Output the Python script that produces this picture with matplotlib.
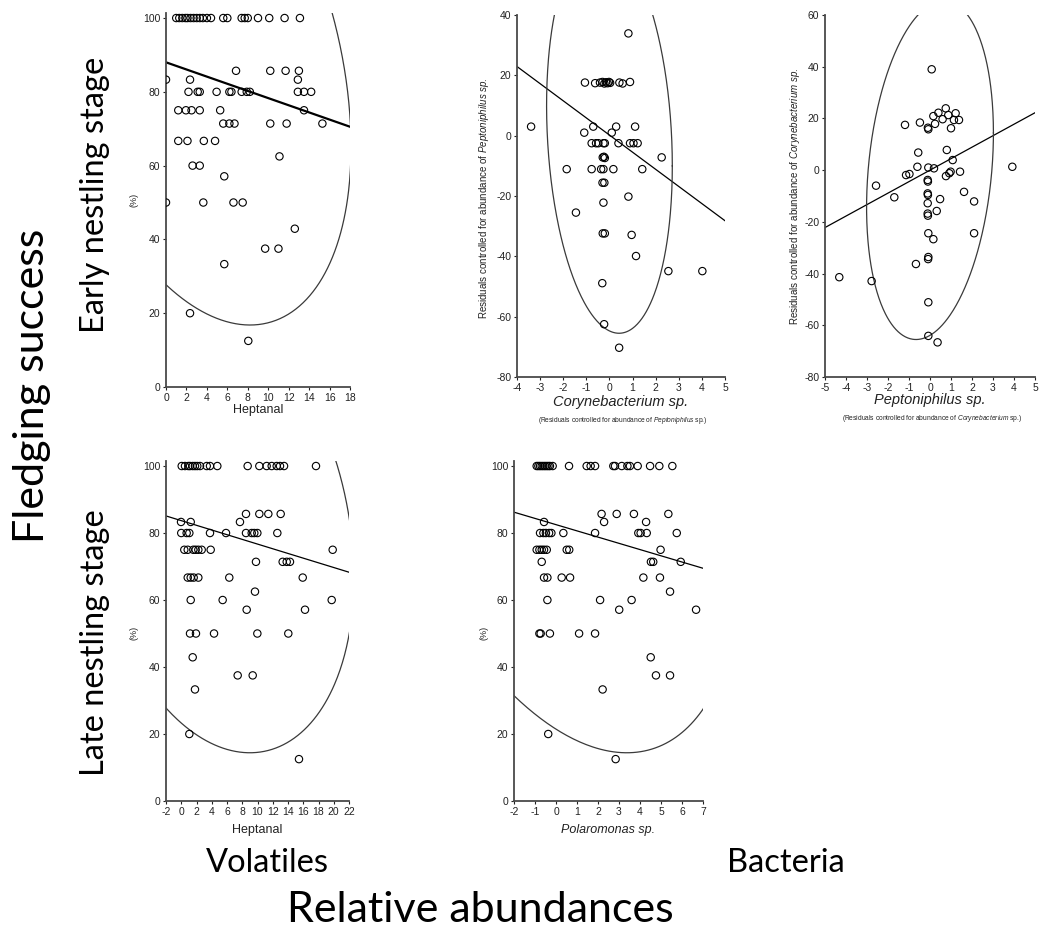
import numpy as np
import matplotlib
matplotlib.use("Agg")
import matplotlib.pyplot as plt

plt.rcParams['font.family'] = ['Liberation Sans', 'DejaVu Sans']
plt.rcParams['mathtext.fontset'] = 'custom'
plt.rcParams['mathtext.rm'] = 'Liberation Sans'
plt.rcParams['mathtext.it'] = 'Liberation Sans:italic'
plt.rcParams['axes.unicode_minus'] = False

W, H = 1041, 931

# ---- fledging success (%) vs relative abundance, one row per success level ----
early_heptanal = [
    (100, [1.0, 1.3, 1.6, 1.9, 2.1, 2.4, 2.7, 3.0, 3.3, 3.6, 4.0, 4.4,
           5.6, 6.0, 7.4, 7.7, 8.0, 9.0, 10.1, 11.6, 13.1]),
    (85.7, [6.85, 10.2, 11.7, 13.0]),
    (83.3, [0.0, 2.35, 12.9]),
    (80, [2.2, 3.1, 3.3, 4.95, 6.2, 6.4, 7.4, 7.9, 8.2, 12.9, 13.5, 14.2]),
    (75, [1.2, 1.95, 2.5, 3.3, 5.3, 13.5]),
    (71.4, [5.6, 6.2, 6.7, 10.2, 11.8, 15.3]),
    (66.7, [1.2, 2.1, 3.7, 4.8]),
    (62.5, [11.1]),
    (60, [2.6, 3.3]),
    (57.1, [5.7]),
    (50, [0.0, 3.65, 6.6, 7.5]),
    (42.9, [12.6]),
    (37.5, [9.7, 11.0]),
    (33.3, [5.7]),
    (20, [2.35]),
    (12.5, [8.05]),
]

late_heptanal = [
    (100, [0.06, 0.49, 0.93, 1.15, 1.5, 1.8, 2.1, 2.46, 3.34, 3.77, 4.73,
           8.71, 10.24, 11.2, 11.86, 12.52, 12.95, 13.48, 17.67]),
    (85.7, [8.49, 10.24, 11.42, 13.04]),
    (83.3, [-0.03, 1.24, 7.7]),
    (80, [0.0, 0.71, 1.06, 3.77, 5.87, 8.49, 9.24, 9.58, 9.98, 12.6]),
    (75, [0.4, 0.85, 1.58, 1.89, 2.24, 2.68, 3.86, 19.86]),
    (71.4, [9.8, 13.3, 13.83, 14.26]),
    (66.7, [0.85, 1.24, 1.63, 2.24, 6.3, 15.93]),
    (62.5, [9.67]),
    (60, [1.24, 5.43, 19.73]),
    (57.1, [8.58, 16.23]),
    (50, [1.15, 1.93, 4.3, 9.98, 14.04]),
    (42.9, [1.5]),
    (37.5, [7.4, 9.37]),
    (33.3, [1.8]),
    (20, [1.06]),
    (12.5, [15.44]),
]

late_polaromonas = [
    (100, [-0.92, -0.84, -0.76, -0.68, -0.6, -0.52, -0.44, -0.36, -0.29, -0.16,
           0.62, 1.46, 1.65, 1.86, 2.73, 2.81, 3.13, 3.4, 3.52, 3.89, 4.48,
           4.92, 5.54]),
    (85.7, [2.17, 2.89, 3.71, 5.35]),
    (83.3, [-0.57, 2.29, 4.29]),
    (80, [-0.76, -0.6, -0.48, -0.33, -0.22, 0.35, 1.86, 3.92, 4.03, 4.32, 5.75]),
    (75, [-0.92, -0.79, -0.68, -0.57, -0.44, 0.51, 0.63, 4.98]),
    (71.4, [-0.68, 4.52, 4.63, 5.94]),
    (66.7, [-0.57, -0.41, 0.27, 0.67, 4.16, 4.95]),
    (62.5, [5.43]),
    (60, [-0.41, 2.1, 3.6]),
    (57.1, [3.01, 6.67]),
    (50, [-0.79, -0.73, -0.29, 1.1, 1.86]),
    (42.9, [4.51]),
    (37.5, [4.76, 5.43]),
    (33.3, [2.22]),
    (20, [-0.37]),
    (12.5, [2.84]),
]

# ---- partial residuals (x residual, y residual) ----
early_corynebacterium = [
    (0.82, 33.9),
    (-1.06, 17.6), (-0.62, 17.4), (-0.41, 17.6), (-0.30, 17.8), (-0.22, 17.3),
    (-0.15, 17.7), (-0.08, 17.4), (-0.02, 17.8), (0.03, 17.5), (0.43, 17.6),
    (0.57, 17.3), (0.89, 17.8),
    (-3.39, 3.0), (-0.70, 3.0), (0.29, 3.0), (1.11, 3.0), (-1.09, 1.0), (0.10, 1.0),
    (-0.77, -2.5), (-0.58, -2.5), (-0.48, -2.5), (-0.26, -2.5), (-0.20, -2.5),
    (0.39, -2.5), (0.89, -2.5), (1.04, -2.5), (1.22, -2.5),
    (-0.29, -7.2), (-0.24, -7.0), (-0.20, -7.4), (2.26, -7.2),
    (-1.85, -11.1), (-0.77, -11.1), (-0.36, -11.1), (-0.26, -11.1), (0.17, -11.1),
    (1.42, -11.1),
    (-0.30, -15.6), (-0.22, -15.6),
    (0.82, -20.2), (-0.26, -22.2), (-1.45, -25.5), (-0.29, -32.4), (-0.20, -32.4),
    (0.96, -32.9), (1.15, -39.9), (2.55, -44.9), (4.02, -44.9), (-0.31, -48.9),
    (-0.23, -62.5), (0.42, -70.3),
]

early_peptoniphilus = [
    (0.08, 39.0), (-1.19, 17.5), (-0.48, 18.4), (-0.08, 15.8), (-0.10, 16.4),
    (0.16, 20.9), (0.24, 17.9), (0.40, 22.2), (0.60, 19.7), (0.75, 23.9),
    (0.87, 21.3), (1.00, 16.2), (1.14, 19.4), (1.22, 22.0), (1.38, 19.4),
    (-0.56, 6.8), (0.80, 7.8), (1.08, 3.9),
    (-1.14, -1.9), (-0.98, -1.5), (-0.60, 1.3), (-0.08, 1.0), (0.19, 0.7),
    (0.76, -2.3), (0.92, -1.2), (0.98, -0.6), (1.43, -0.6), (3.92, 1.3),
    (-2.57, -6.0), (-0.11, -3.8), (-0.10, -4.4), (-0.11, -9.0), (-0.10, -9.6),
    (1.62, -8.4), (-1.70, -10.5), (0.48, -11.2), (2.10, -12.1), (-0.11, -12.8),
    (-0.11, -16.8), (-0.10, -17.6), (0.32, -15.8), (-0.08, -24.4), (0.16, -26.7),
    (2.10, -24.4), (-0.67, -36.3), (-0.08, -33.6), (-0.09, -34.4), (-4.32, -41.4),
    (-2.78, -42.9), (-0.08, -51.1), (-0.08, -64.1), (0.36, -66.6),
]

# regression lines: (intercept, slope)
fit_early_heptanal = (88.0, -0.97)
fit_early_corynebacterium = (0.2, -5.68)
fit_early_peptoniphilus = (0.0, 4.44)
fit_late_heptanal = (83.7, -0.70)
fit_late_polaromonas = (82.5, -1.86)

# confidence ellipses: (centre x, centre y, half-range x, half-range y, r)
ell_early_heptanal = (2.9, 91.0, 15.2, 74.2, -0.35)
ell_early_corynebacterium = (0.0, 0.0, 2.72, 65.5, -0.153)
ell_early_peptoniphilus = (0.0, 0.0, 3.02, 65.5, 0.22)
ell_late_heptanal = (5.15, 81.4, 17.5, 67.0, -0.22)
ell_late_polaromonas = (-1.13, 128.4, 10.0, 114.0, -0.45)


def rows_to_xy(rows):
    xs, ys = [], []
    for level, xvals in rows:
        xs += xvals
        ys += [level] * len(xvals)
    return np.array(xs), np.array(ys)


def pairs_to_xy(pairs):
    arr = np.array(pairs)
    return arr[:, 0], arr[:, 1]


def box(left, right, top, bottom):
    return [left / W, 1 - bottom / H, (right - left) / W, (bottom - top) / H]


def fpos(x, y):
    return x / W, 1 - y / H


def panel(rect, x, y, fit, ell, xlim, ylim, xticks, yticks, fit_lw=0.9):
    ax = fig.add_axes(rect)
    ax.scatter(x, y, s=28, facecolors='none', edgecolors='black',
               linewidths=0.8, zorder=3)
    xx = np.array(xlim, dtype=float)
    ax.plot(xx, fit[0] + fit[1] * xx, color='black', lw=fit_lw, zorder=2)
    cx, cy, rx, ry, r = ell
    t = np.linspace(0, 2 * np.pi, 600)
    ax.plot(cx + rx * np.cos(t), cy + ry * np.sin(t + np.arcsin(r)),
            color='#3a3a3a', lw=0.9, zorder=2)
    ax.set_xlim(*xlim)
    ax.set_ylim(*ylim)
    ax.set_xticks(xticks)
    ax.set_yticks(yticks)
    for side in ['top', 'right']:
        ax.spines[side].set_visible(False)
    for side in ['left', 'bottom']:
        ax.spines[side].set_color('#4a4a4a')
        ax.spines[side].set_linewidth(1.3)
    ax.tick_params(direction='out', length=2.5, width=0.8, labelsize=7.5,
                   pad=1.5, colors='#222222')
    ax.set_facecolor('none')
    return ax


fig = plt.figure(figsize=(W / 100, H / 100), dpi=100)

x1, y1 = rows_to_xy(early_heptanal)
panel(box(166, 350, 12.5, 387), x1, y1, fit_early_heptanal, ell_early_heptanal,
      (0, 18), (0, 101.5), range(0, 19, 2), range(0, 101, 20), fit_lw=1.6)

x2, y2 = pairs_to_xy(early_corynebacterium)
panel(box(517, 725, 15, 377), x2, y2, fit_early_corynebacterium,
      ell_early_corynebacterium, (-4, 5), (-80, 40), range(-4, 6),
      range(-80, 41, 20))

x3, y3 = pairs_to_xy(early_peptoniphilus)
panel(box(825, 1035, 15, 377), x3, y3, fit_early_peptoniphilus,
      ell_early_peptoniphilus, (-5, 5), (-80, 60), range(-5, 6),
      range(-80, 61, 20))

x4, y4 = rows_to_xy(late_heptanal)
panel(box(166, 349, 461, 801), x4, y4, fit_late_heptanal, ell_late_heptanal,
      (-2, 22), (0, 101.5), range(-2, 23, 2), range(0, 101, 20))

x5, y5 = rows_to_xy(late_polaromonas)
panel(box(514, 703, 461, 801), x5, y5, fit_late_polaromonas,
      ell_late_polaromonas, (-2, 7), (0, 101.5), range(-2, 8),
      range(0, 101, 20))

# ---- axis labels ----
small = dict(ha='center', va='center', color='#222222')
fig.text(*fpos(134, 200), '(%)', rotation=90, fontsize=6.5, **small)
fig.text(*fpos(134, 633), '(%)', rotation=90, fontsize=6.5, **small)
fig.text(*fpos(484, 633), '(%)', rotation=90, fontsize=6.5, **small)
fig.text(*fpos(258, 410), 'Heptanal', fontsize=9, **small)
fig.text(*fpos(257, 830), 'Heptanal', fontsize=9, **small)
fig.text(*fpos(608, 830), 'Polaromonas sp.', fontsize=9, style='italic', **small)

fig.text(*fpos(484, 198),
         r'Residuals controlled for abundance of $\mathit{Peptoniphilus\ sp.}$',
         rotation=90, fontsize=7, **small)
fig.text(*fpos(621, 402), 'Corynebacterium sp.', fontsize=10.5,
         style='italic', **small)
fig.text(*fpos(623, 420),
         r'(Residuals controlled for abundance of $\mathit{Peptoniphilus}$ sp.)',
         fontsize=4.8, **small)

fig.text(*fpos(795, 196),
         r'Residuals controlled for abundance of $\mathit{Corynebacterium\ sp.}$',
         rotation=90, fontsize=7, **small)
fig.text(*fpos(930, 400), 'Peptoniphilus sp.', fontsize=10.5,
         style='italic', **small)
fig.text(*fpos(932, 419),
         r'(Residuals controlled for abundance of $\mathit{Corynebacterium}$ sp.)',
         fontsize=4.8, **small)

# ---- figure-level headings ----
big = dict(ha='center', va='center', color='black', family=['Lato', 'DejaVu Sans'])
fig.text(*fpos(32, 386), 'Fledging success', rotation=90, fontsize=31, **big)
fig.text(*fpos(95, 195), 'Early nestling stage', rotation=90, fontsize=23.5, **big)
fig.text(*fpos(95, 643), 'Late nestling stage', rotation=90, fontsize=23.5, **big)
fig.text(*fpos(267, 863), 'Volatiles', fontsize=23.5, **big)
fig.text(*fpos(786, 863), 'Bacteria', fontsize=23.5, **big)
fig.text(*fpos(480, 910), 'Relative abundances', fontsize=31, **big)

fig.savefig('out.png', dpi=100)
